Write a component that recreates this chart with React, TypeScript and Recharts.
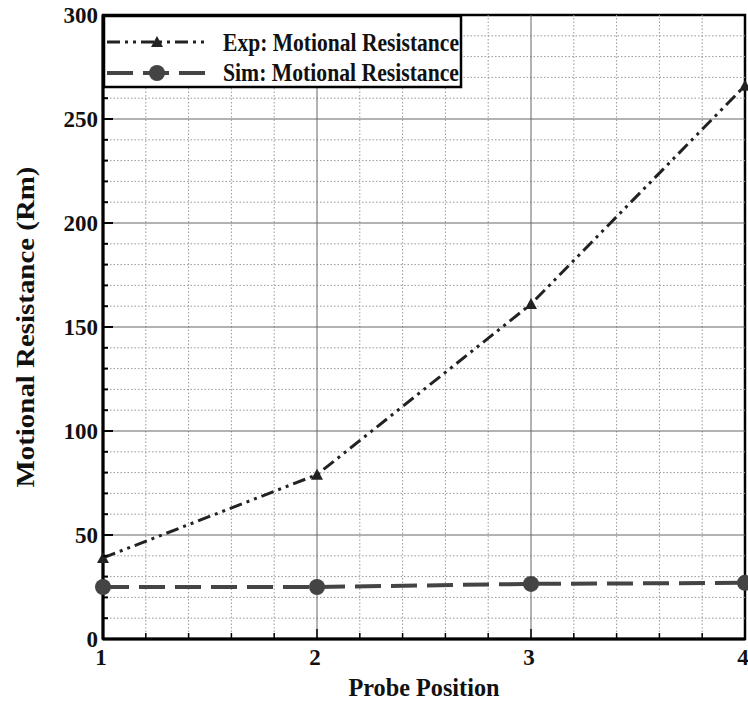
import {
  Line,
  LineChart,
  ReferenceArea,
  ReferenceLine,
  XAxis,
  YAxis,
} from "recharts";

const positions = [1, 2, 3, 4];
const expResistance = [39, 79, 161, 266];
const simResistance = [25, 25, 26.5, 27];
const xTickLabels = [1, 2, 3, 4];
const yTickLabels = [0, 50, 100, 150, 200, 250, 300];

const data = positions.map((p, i) => ({
  pos: p,
  exp: expResistance[i],
  sim: simResistance[i],
}));

const FONT = "'Liberation Serif', 'Times New Roman', serif";
const INK = "#222";

// minor steps: 0.2 on x, 10 on y
const xTicks: number[] = [];
for (let v = 1; v <= 4.0001; v += 0.2) xTicks.push(Math.round(v * 10) / 10);
const yTicks: number[] = [];
for (let v = 0; v <= 300; v += 10) yTicks.push(v);
const xMinor = xTicks.filter((v) => !xTickLabels.includes(v));
const yMinor = yTicks.filter((v) => !yTickLabels.includes(v));

function YTick(props: any) {
  const { x, y, payload } = props;
  const major = yTickLabels.includes(payload.value);
  return (
    <g>
      <line x1={x} x2={x + (major ? 10 : 5)} y1={y} y2={y} stroke="#000" strokeWidth={2} />
      {major && (
        <text
          x={x - 5}
          y={y}
          dy="0.35em"
          textAnchor="end"
          fontFamily={FONT}
          fontWeight="bold"
          fontSize={23}
          fill="#111"
        >
          {payload.value}
        </text>
      )}
    </g>
  );
}

function XTick(props: any) {
  const { x, y, payload } = props;
  const major = xTickLabels.includes(payload.value);
  return (
    <g>
      <line x1={x} x2={x} y1={y} y2={y - (major ? 10 : 6)} stroke="#000" strokeWidth={1.5} />
      {major && (
        <text
          x={x - 2}
          y={y + 26}
          textAnchor="middle"
          fontFamily={FONT}
          fontWeight="bold"
          fontSize={23}
          fill="#111"
        >
          {payload.value}
        </text>
      )}
    </g>
  );
}

function Triangle(props: any) {
  const { cx, cy } = props;
  if (cx == null || cy == null) return null;
  return <path d={`M${cx},${cy - 6} L${cx + 6},${cy + 5} L${cx - 6},${cy + 5} Z`} fill={INK} />;
}

function YTitle(props: any) {
  const vb = props.viewBox;
  const cx = vb.x - 18;
  const cy = vb.y + vb.height / 2;
  return (
    <text
      x={cx}
      y={cy}
      transform={`rotate(-90 ${cx} ${cy})`}
      textAnchor="middle"
      dy="0.35em"
      fontFamily={FONT}
      fontWeight="bold"
      fontSize={26}
      textLength={321}
      lengthAdjust="spacingAndGlyphs"
      fill="#111"
    >
      Motional Resistance (Rm)
    </text>
  );
}

function XTitle(props: any) {
  const vb = props.viewBox;
  return (
    <text
      x={vb.x + vb.width / 2}
      y={vb.y + 57}
      textAnchor="middle"
      fontFamily={FONT}
      fontWeight="bold"
      fontSize={26}
      textLength={151}
      lengthAdjust="spacingAndGlyphs"
      fill="#111"
    >
      Probe Position
    </text>
  );
}

function LegendBox() {
  return (
    <svg
      width={748}
      height={701}
      style={{ position: "absolute", left: 0, top: 0, pointerEvents: "none" }}
    >
      <rect x={104} y={16} width={357} height={71} fill="#fff" stroke="#000" strokeWidth={2.5} />
      <line x1={107} x2={205} y1={42} y2={42} stroke={INK} strokeWidth={3} strokeDasharray="13 5 3 5 3 5" />
      <Triangle cx={157} cy={42} />
      <text
        x={223}
        y={51}
        fontFamily={FONT}
        fontWeight="bold"
        fontSize={25}
        textLength={236}
        lengthAdjust="spacingAndGlyphs"
        fill="#111"
      >
        Exp: Motional Resistance
      </text>
      <line x1={107} x2={205} y1={73} y2={73} stroke="#444" strokeWidth={4} strokeDasharray="26 10" />
      <circle cx={157} cy={73} r={8} fill="#444" />
      <text
        x={223}
        y={81}
        fontFamily={FONT}
        fontWeight="bold"
        fontSize={25}
        textLength={236}
        lengthAdjust="spacingAndGlyphs"
        fill="#111"
      >
        Sim: Motional Resistance
      </text>
    </svg>
  );
}

export default function App() {
  return (
    <div style={{ position: "absolute", left: 0, top: 0, width: 748, height: 701, background: "#fff" }}>
      <LineChart
        width={748}
        height={701}
        data={data}
        margin={{ top: 15, right: 3, left: 43, bottom: 32 }}
      >
        {xMinor.map((v) => (
          <ReferenceLine key={`xm${v}`} x={v} stroke="#999" strokeDasharray="1.5 2" />
        ))}
        {yMinor.map((v) => (
          <ReferenceLine key={`ym${v}`} y={v} stroke="#999" strokeDasharray="1.5 2" />
        ))}
        {xTickLabels.slice(1, -1).map((v) => (
          <ReferenceLine key={`xM${v}`} x={v} stroke="#666" strokeWidth={1} />
        ))}
        {yTickLabels.slice(1, -1).map((v) => (
          <ReferenceLine key={`yM${v}`} y={v} stroke="#666" strokeWidth={1} />
        ))}
        <ReferenceArea x1={1} x2={4} y1={0} y2={300} fill="none" stroke="#000" strokeWidth={2.5} />
        <XAxis
          dataKey="pos"
          type="number"
          domain={[1, 4]}
          ticks={xTicks}
          interval={0}
          height={30}
          tickSize={0}
          tickMargin={0}
          tickLine={false}
          tick={<XTick />}
          axisLine={{ stroke: "#000", strokeWidth: 3 }}
          label={<XTitle />}
        />
        <YAxis
          type="number"
          domain={[0, 300]}
          ticks={yTicks}
          interval={0}
          width={60}
          tickSize={0}
          tickMargin={0}
          tickLine={false}
          tick={<YTick />}
          axisLine={{ stroke: "#000", strokeWidth: 3 }}
          label={<YTitle />}
        />
        <Line
          type="linear"
          dataKey="sim"
          stroke="#444"
          strokeWidth={4}
          strokeDasharray="26 10"
          dot={{ r: 8, fill: "#444", stroke: "none" }}
          isAnimationActive={false}
        />
        <Line
          type="linear"
          dataKey="exp"
          stroke={INK}
          strokeWidth={3}
          strokeDasharray="13 5 3 5 3 5"
          dot={<Triangle />}
          isAnimationActive={false}
        />
      </LineChart>
      <LegendBox />
    </div>
  );
}
